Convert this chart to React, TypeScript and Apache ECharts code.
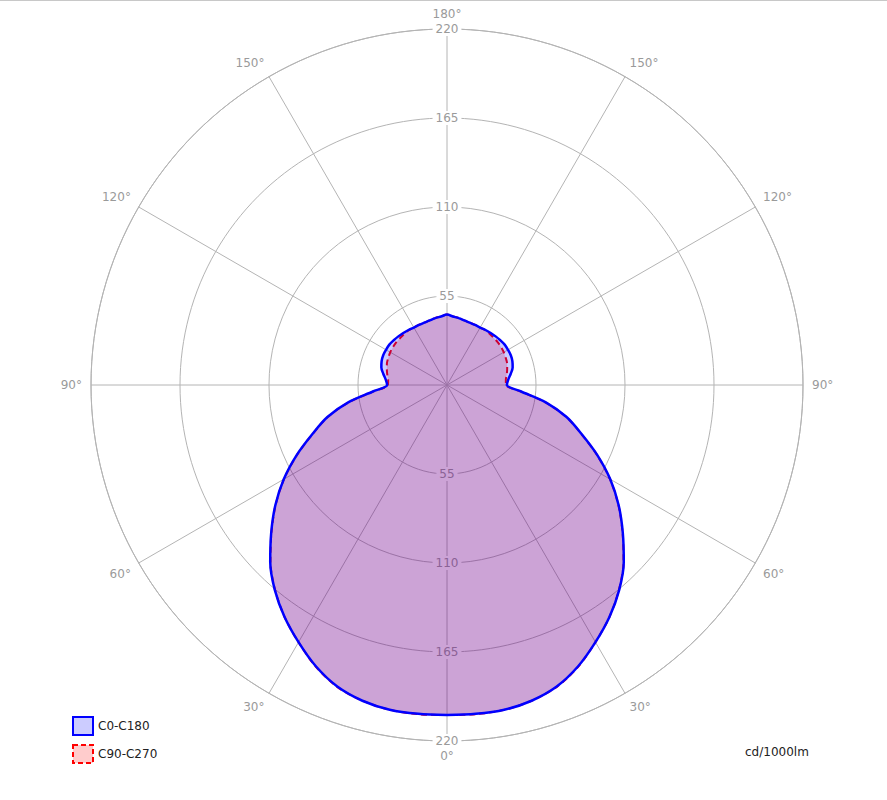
import React, { useEffect, useRef } from 'react';
import * as echarts from 'echarts';

// Gamma angles (0° = straight down, 180° = straight up), one half-plane
const gammaAngles = [
  0, 5, 10, 15, 20, 25, 30, 35, 40, 45, 50, 55, 60, 65, 70, 75, 80, 85, 90,
  95, 100, 105, 110, 115, 120, 125, 130, 135, 140, 145, 150, 155, 160, 165, 170, 175, 180,
];

// Luminous intensity, cd/1000lm
const c0c180 = [
  204, 204, 203.8, 202, 198.3, 191.8, 183.5, 175, 165.5, 154.5, 141.8, 129.5, 116.5, 102.5, 88.5, 76.5, 62, 46, 37,
  38, 40, 42, 43, 43.5, 43.5, 43.5, 43, 42.5, 42, 41.5, 41, 41, 41, 41.3, 42, 42.5, 43.5,
];
const c90c270 = [
  204, 204.2, 203.8, 202, 198.5, 192, 183.5, 175, 165.3, 154.3, 141.6, 129.3, 116.3, 102.3, 88.3, 76.3, 61.7, 45.5, 36.5,
  36.5, 37.5, 38.5, 39.5, 40, 40.5, 40.8, 41, 41, 41.2, 41.3, 41, 41, 41, 41.3, 42, 42.5, 43.5,
];

const seriesNames = ['C0-C180', 'C90-C270'];
const radiusMax = 220;
const radiusStep = 55;
const angleStep = 30;
const unitLabel = 'cd/1000lm';

const FONT = 'DejaVu Sans';
const GRID = '#b4b4b4';
const LABEL = '#9a9a9a';

// right half at angle = gamma, left half mirrored at 360 - gamma
function fullCircle(values: number[]): number[][] {
  const pts: number[][] = gammaAngles.map((g, i) => [values[i], g]);
  for (let i = gammaAngles.length - 2; i >= 0; i--) {
    pts.push([values[i], 360 - gammaAngles[i]]);
  }
  return pts;
}

export default function App() {
  const ref = useRef<HTMLDivElement>(null);

  useEffect(() => {
    if (!ref.current) return;
    const chart = echarts.init(ref.current, undefined, { renderer: 'svg' });
    const center = [447, 385];
    const radius = 356;

    const labelAxis = (polarIndex: number) => ({
      polarIndex,
      type: 'value',
      min: 0,
      max: radiusMax,
      interval: radiusStep,
      z: 1,
      axisLine: { show: false },
      axisTick: { show: false },
      splitLine: { show: false },
      axisLabel: {
        showMinLabel: false,
        margin: 0,
        align: 'center',
        verticalAlign: 'middle',
        color: LABEL,
        fontSize: 12,
        fontFamily: FONT,
        backgroundColor: '#ffffff',
        padding: [1, 3],
      },
    });

    chart.setOption({
      animation: false,
      backgroundColor: '#ffffff',
      title: {
        text: unitLabel,
        left: 745,
        top: 746,
        padding: 0,
        textStyle: { fontSize: 12, fontWeight: 'normal', color: '#222', fontFamily: FONT },
      },
      graphic: [
        {
          type: 'line',
          shape: { x1: 0, y1: 0.5, x2: 887, y2: 0.5 },
          style: { stroke: '#c8c8c8', lineWidth: 1 },
        },
      ],
      legend: {
        orient: 'vertical',
        left: 72,
        top: 716,
        padding: 0,
        itemWidth: 20,
        itemHeight: 18,
        itemGap: 8,
        selectedMode: false,
        textStyle: { fontSize: 12, color: '#222', fontFamily: FONT },
        data: [
          {
            name: seriesNames[0],
            icon: 'rect',
            itemStyle: { color: '#ccccff', borderColor: '#0000ff', borderWidth: 2 },
          },
          {
            name: seriesNames[1],
            icon: 'rect',
            itemStyle: { color: '#ffcccc', borderColor: '#ff0000', borderWidth: 2, borderType: [5, 3] },
          },
        ],
      },
      polar: [
        { center, radius },
        { center, radius },
        { center, radius },
      ],
      angleAxis: [
        {
          polarIndex: 0,
          type: 'value',
          min: 0,
          max: 360,
          interval: angleStep,
          startAngle: 270,
          clockwise: true,
          axisLine: { show: true, lineStyle: { color: GRID, width: 1 } },
          axisTick: { show: false },
          axisLabel: {
            margin: 9,
            color: LABEL,
            fontSize: 12,
            fontFamily: FONT,
            formatter: (v: number) => (v > 180 ? 360 - v : v) + '°',
          },
          splitLine: { show: true, lineStyle: { color: GRID, width: 1 } },
        },
        { polarIndex: 1, type: 'value', min: 0, max: 360, startAngle: 90, show: false },
        { polarIndex: 2, type: 'value', min: 0, max: 360, startAngle: 270, show: false },
      ],
      radiusAxis: [
        {
          polarIndex: 0,
          type: 'value',
          min: 0,
          max: radiusMax,
          interval: radiusStep,
          axisLine: { show: false },
          axisTick: { show: false },
          axisLabel: { show: false },
          splitLine: { show: true, lineStyle: { color: GRID, width: 1 } },
        },
        labelAxis(1),
        labelAxis(2),
      ],
      series: [
        {
          type: 'line',
          name: seriesNames[1],
          coordinateSystem: 'polar',
          polarIndex: 0,
          data: fullCircle(c90c270),
          symbol: 'none',
          showSymbol: false,
          smooth: 0.3,
          z: 2,
          itemStyle: { color: '#ff0000' },
          lineStyle: { color: '#ff0000', width: 2, type: [6, 4] },
          areaStyle: { color: 'rgba(255,0,0,0.2)', opacity: 1, origin: 'start' },
        },
        {
          type: 'line',
          name: seriesNames[0],
          coordinateSystem: 'polar',
          polarIndex: 0,
          data: fullCircle(c0c180),
          symbol: 'none',
          showSymbol: false,
          smooth: 0.3,
          z: 3,
          itemStyle: { color: '#0000ff' },
          lineStyle: { color: '#0000ff', width: 2.5 },
          areaStyle: { color: 'rgba(0,0,255,0.2)', opacity: 1, origin: 'start' },
        },
      ],
    });

    return () => chart.dispose();
  }, []);

  return (
    <div
      ref={ref}
      style={{ position: 'absolute', left: 0, top: 0, width: 887, height: 800 }}
    />
  );
}
